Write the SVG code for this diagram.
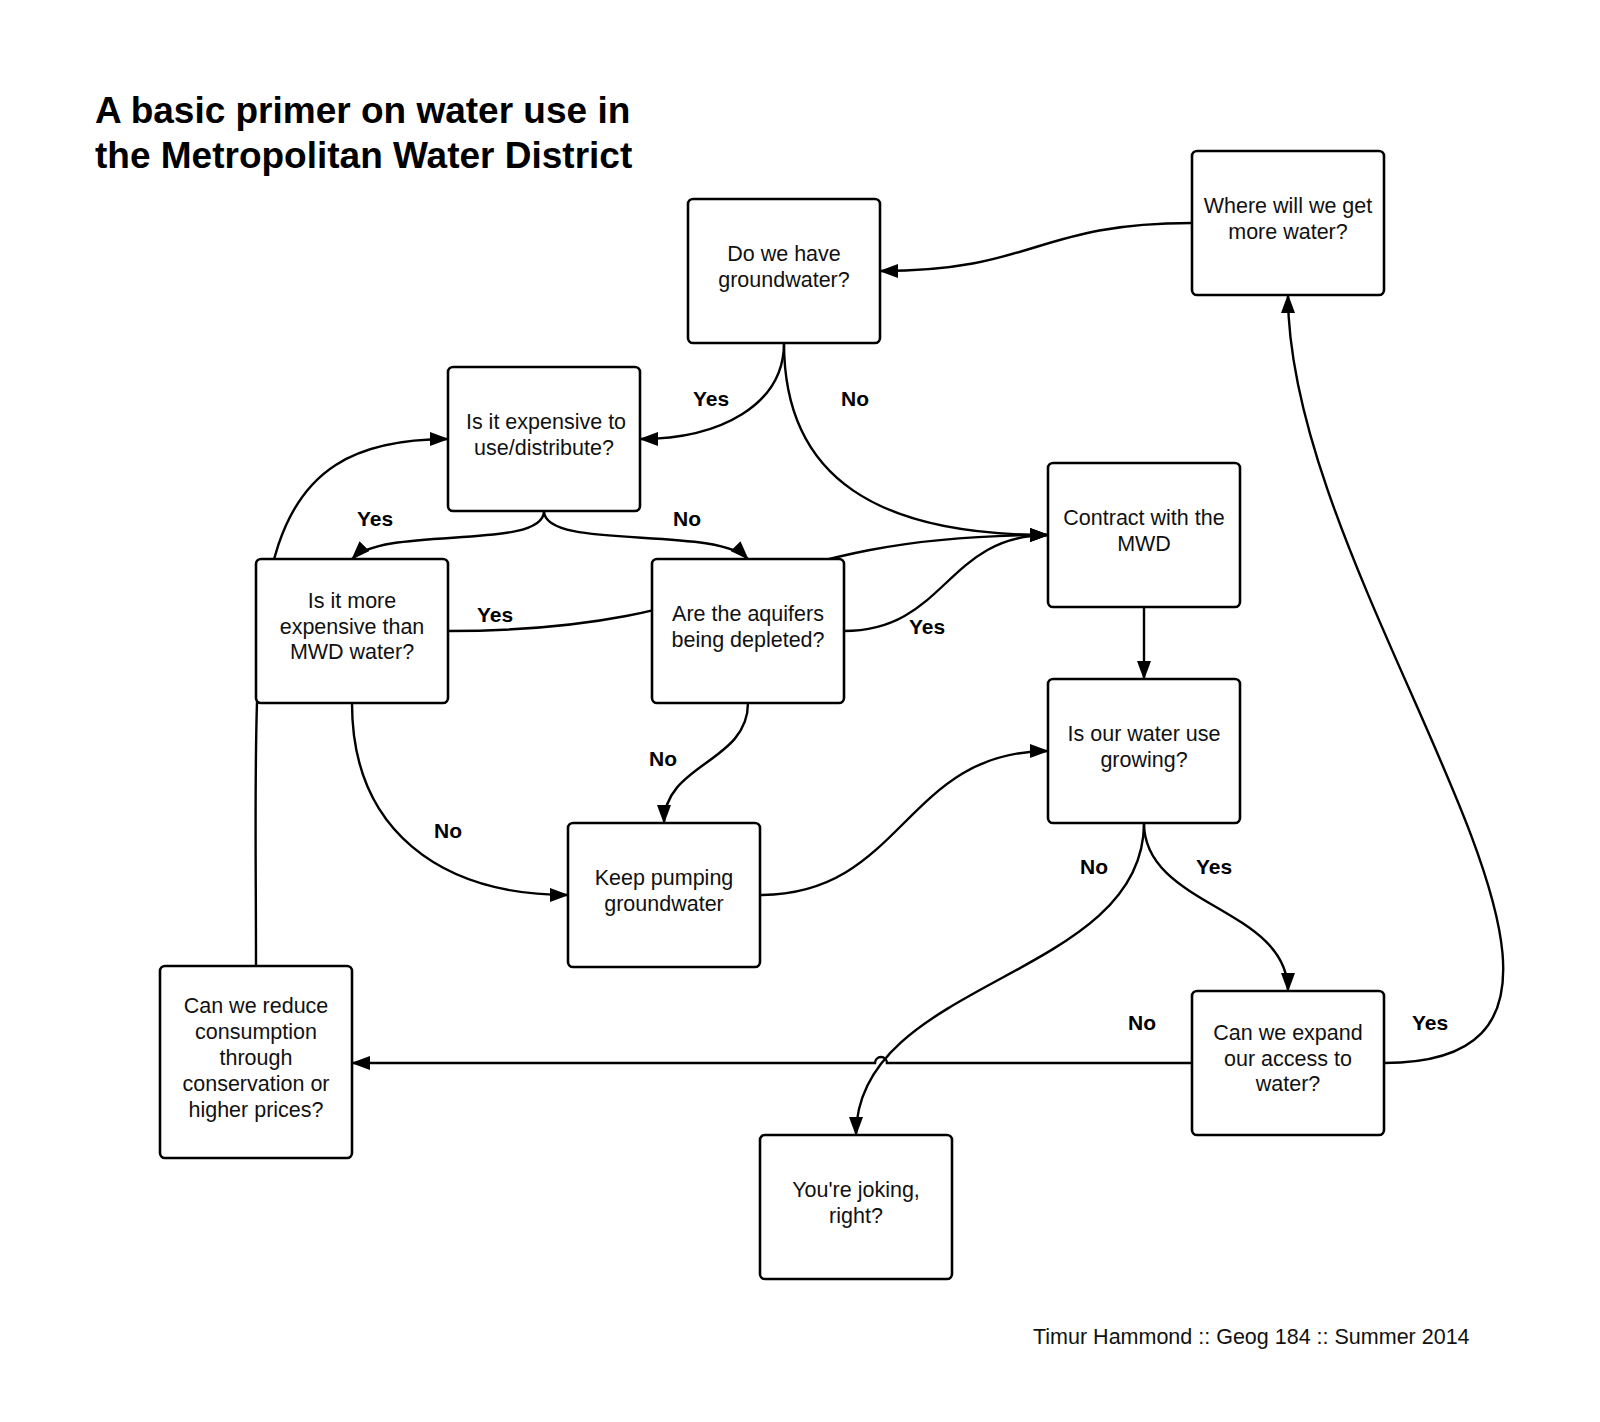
<svg xmlns="http://www.w3.org/2000/svg" width="1600" height="1422" viewBox="0 0 1600 1422">
<style>
.box{fill:#fff;stroke:#000;stroke-width:2.6}
.t{font-family:"Liberation Sans",Arial,sans-serif;font-size:21.5px;fill:#111;text-anchor:middle}
.lbl{font-family:"Liberation Sans",Arial,sans-serif;font-size:21px;font-weight:bold;fill:#000;text-anchor:middle}
.ttl{font-family:"Liberation Sans",Arial,sans-serif;font-size:37px;font-weight:bold;fill:#000}
.c{fill:none;stroke:#000;stroke-width:2.4}
.a{marker-end:url(#arr)}
</style>
<defs>
<marker id="arr" markerUnits="userSpaceOnUse" markerWidth="19" markerHeight="14" refX="18" refY="7" orient="auto">
<path d="M0,0 L19,7 L0,14 z" fill="#000"/>
</marker>
</defs>
<rect width="1600" height="1422" fill="#fff"/>
<text class="ttl" x="95" y="123">A basic primer on water use in</text>
<text class="ttl" x="95" y="168">the Metropolitan Water District</text>
<g id="connectors">
<path class="c a" d="M1192,223 C1036,223 1036,271 880,271"/>
<path class="c a" d="M784,343 C784,405 720,439 640,439"/>
<path class="c a" d="M784,343 C784,480 880,535 1048,535"/>
<path class="c a" d="M544,511 C544,551 385,525 352,559"/>
<path class="c a" d="M544,511 C544,551 715,525 748,559"/>
<path class="c a" d="M448,631 C748,631 748,535 1048,535"/>
<path class="c a" d="M844,631 C946,631 946,535 1048,535"/>
<path class="c a" d="M748,703 C748,763 664,763 664,823"/>
<path class="c a" d="M352,703 C352,830 440,895 568,895"/>
<path class="c a" d="M760,895 C904,895 904,751 1048,751"/>
<path class="c a" d="M1144,607 L1144,679"/>
<path class="c a" d="M1144,823 C1144,979 856,979 856,1135"/>
<path class="c a" d="M1144,823 C1144,907 1288,907 1288,991"/>
<path class="c a" d="M1192,1063 L887,1063 A6,6 0 0 0 875,1063 L352,1063"/>
<path class="c a" d="M1384,1063 C1700,1063 1288,600 1288,295"/>
<path class="c a" d="M256,966 C256,600 236,439 448,439"/>
</g>
<g id="labels">
<text class="lbl" x="711" y="406">Yes</text>
<text class="lbl" x="855" y="406">No</text>
<text class="lbl" x="375" y="526">Yes</text>
<text class="lbl" x="687" y="526">No</text>
<text class="lbl" x="495" y="622">Yes</text>
<text class="lbl" x="927" y="634">Yes</text>
<text class="lbl" x="663" y="766">No</text>
<text class="lbl" x="448" y="838">No</text>
<text class="lbl" x="1094" y="874">No</text>
<text class="lbl" x="1214" y="874">Yes</text>
<text class="lbl" x="1142" y="1030">No</text>
<text class="lbl" x="1430" y="1030">Yes</text>
</g>
<g id="n-groundwater"><rect class="box" x="688" y="199" width="192" height="144" rx="5"/><text class="t" x="784" y="261">Do we have</text><text class="t" x="784" y="287">groundwater?</text></g>
<g id="n-where"><rect class="box" x="1192" y="151" width="192" height="144" rx="5"/><text class="t" x="1288" y="213">Where will we get</text><text class="t" x="1288" y="239">more water?</text></g>
<g id="n-expensive"><rect class="box" x="448" y="367" width="192" height="144" rx="5"/><text class="t" x="546" y="429">Is it expensive to</text><text class="t" x="544" y="455">use/distribute?</text></g>
<g id="n-contract"><rect class="box" x="1048" y="463" width="192" height="144" rx="5"/><text class="t" x="1144" y="525">Contract with the</text><text class="t" x="1144" y="551">MWD</text></g>
<g id="n-more"><rect class="box" x="256" y="559" width="192" height="144" rx="5"/><text class="t" x="352" y="608">Is it more</text><text class="t" x="352" y="634">expensive than</text><text class="t" x="352" y="659">MWD water?</text></g>
<g id="n-aquifers"><rect class="box" x="652" y="559" width="192" height="144" rx="5"/><text class="t" x="748" y="621">Are the aquifers</text><text class="t" x="748" y="647">being depleted?</text></g>
<g id="n-growing"><rect class="box" x="1048" y="679" width="192" height="144" rx="5"/><text class="t" x="1144" y="741">Is our water use</text><text class="t" x="1144" y="767">growing?</text></g>
<g id="n-pumping"><rect class="box" x="568" y="823" width="192" height="144" rx="5"/><text class="t" x="664" y="885">Keep pumping</text><text class="t" x="664" y="911">groundwater</text></g>
<g id="n-reduce"><rect class="box" x="160" y="966" width="192" height="192" rx="5"/><text class="t" x="256" y="1013">Can we reduce</text><text class="t" x="256" y="1039">consumption</text><text class="t" x="256" y="1065">through</text><text class="t" x="256" y="1091">conservation or</text><text class="t" x="256" y="1117">higher prices?</text></g>
<g id="n-expand"><rect class="box" x="1192" y="991" width="192" height="144" rx="5"/><text class="t" x="1288" y="1040">Can we expand</text><text class="t" x="1288" y="1066">our access to</text><text class="t" x="1288" y="1091">water?</text></g>
<g id="n-joking"><rect class="box" x="760" y="1135" width="192" height="144" rx="5"/><text class="t" x="856" y="1197">You're joking,</text><text class="t" x="856" y="1223">right?</text></g>
<text x="1033" y="1344" style="font-family:'Liberation Sans',Arial,sans-serif;font-size:21.5px" fill="#111">Timur Hammond :: Geog 184 :: Summer 2014</text>
</svg>
